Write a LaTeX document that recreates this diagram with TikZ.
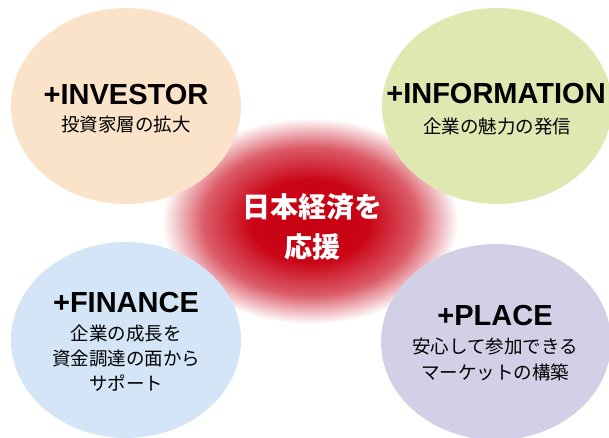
\documentclass[tikz,border=0pt]{standalone}
\usepackage{fontspec}
\setmainfont{Liberation Sans}
\newfontfamily\jp{Noto Sans CJK JP}
\usetikzlibrary{shapes.geometric}
\definecolor{peach}{HTML}{FBE3C9}
\definecolor{lgreen}{HTML}{DFE8B1}
\definecolor{lblue}{HTML}{D3E5F6}
\definecolor{lpurple}{HTML}{D2D0E7}
\pgfdeclareradialshading{blob}{\pgfpoint{0bp}{0bp}}{rgb(0bp)=(0.78,0,0.07); rgb(10bp)=(0.79,0.02,0.09); rgb(18bp)=(0.86,0.36,0.41); rgb(25bp)=(1,1,1); rgb(50bp)=(1,1,1)}
\tikzset{
  bub/.style={ellipse, minimum width=230pt, minimum height=196pt, inner sep=0pt},
  ttl/.style={anchor=base, inner sep=0pt, font=\fontsize{29}{30}\selectfont\bfseries},
  sub/.style={inner sep=0pt, align=center, font=\jp\fontsize{18.5}{25}\selectfont},
  ctr/.style={inner sep=0pt, align=center, text=white, font=\jp\fontsize{28}{40}\selectfont\bfseries}
}
\begin{document}
\begin{tikzpicture}[x=1pt,y=-1pt]
\useasboundingbox (0,0) rectangle (609,438);
\clip (0,0) rectangle (609,438);
\node[ellipse, minimum width=296pt, minimum height=206pt, inner sep=0pt, shading=blob] (blob) at (310,221) {};
\node[bub, fill=peach] (inv) at (126,106) {};
\node[bub, fill=lgreen] (inf) at (497,106) {};
\node[bub, fill=lblue] (fin) at (126,340) {};
\node[bub, fill=lpurple] (pla) at (496,342) {};
\node[ttl] (invt) at (126,105) {+INVESTOR};
\node[sub] (invs) at (126,124) {投資家層の拡大};
\node[ttl] (inft) at (496,104) {+INFORMATION};
\node[sub] (infs) at (497,126) {企業の魅力の発信};
\node[ttl] (fint) at (126,312) {+FINANCE};
\node[sub] (fins) at (126,358) {企業の成長を\\資金調達の面から\\サポート};
\node[ttl] (plat) at (495,325) {+PLACE};
\node[sub, font=\jp\fontsize{18.5}{26}\selectfont] (plas) at (495,359) {安心して参加できる\\マーケットの構築};
\node[ctr] (cen) at (312,227) {日本経済を\\応援};
\end{tikzpicture}
\end{document}
